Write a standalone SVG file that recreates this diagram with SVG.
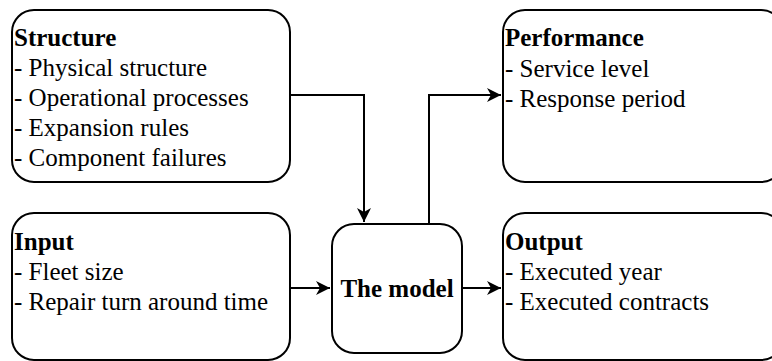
<svg xmlns="http://www.w3.org/2000/svg" width="772" height="361" viewBox="0 0 772 361">
  <style>
    .box { fill: #ffffff; stroke: #000000; stroke-width: 2; }
    .edge { fill: none; stroke: #000000; stroke-width: 2; }
    text { font-family: "Liberation Serif", "Times New Roman", serif; font-size: 25px; fill: #000000; }
    .head { font-weight: bold; }
  </style>
  <defs>
    <marker id="arrow" markerUnits="userSpaceOnUse" markerWidth="16" markerHeight="16" refX="14" refY="7" orient="auto">
      <path d="M0,0 L14,7 L0,14 L4,7 Z" fill="#000000"/>
    </marker>
  </defs>
  <rect width="772" height="361" fill="#ffffff"/>

  <!-- orthogonal connectors between the boxes -->
  <g id="connectors">
    <path class="edge" d="M290,95 H364 V222" marker-end="url(#arrow)"/>
    <path class="edge" d="M429,224 V95 H501" marker-end="url(#arrow)"/>
    <path class="edge" d="M290,288 H330" marker-end="url(#arrow)"/>
    <path class="edge" d="M462,288 H501" marker-end="url(#arrow)"/>
  </g>

  <g id="structure">
    <rect class="box" x="12" y="10" width="278" height="172" rx="22"/>
    <text x="14" y="46" class="head">Structure</text>
    <text x="14" y="76">- Physical structure</text>
    <text x="14" y="106">- Operational processes</text>
    <text x="14" y="136">- Expansion rules</text>
    <text x="14" y="166">- Component failures</text>
  </g>

  <g id="input">
    <rect class="box" x="12" y="213" width="278" height="147" rx="22"/>
    <text x="14" y="250" class="head">Input</text>
    <text x="14" y="280">- Fleet size</text>
    <text x="14" y="310">- Repair turn around time</text>
  </g>

  <g id="model">
    <rect class="box" x="332" y="224" width="130" height="129" rx="22"/>
    <text x="397" y="297" class="head" text-anchor="middle">The model</text>
  </g>

  <g id="performance">
    <rect class="box" x="503" y="10" width="280" height="172" rx="22"/>
    <text x="505" y="46" class="head">Performance</text>
    <text x="505" y="77">- Service level</text>
    <text x="505" y="107">- Response period</text>
  </g>

  <g id="output">
    <rect class="box" x="503" y="213" width="280" height="147" rx="22"/>
    <text x="505" y="250" class="head">Output</text>
    <text x="505" y="280">- Executed year</text>
    <text x="505" y="310">- Executed contracts</text>
  </g>
</svg>
